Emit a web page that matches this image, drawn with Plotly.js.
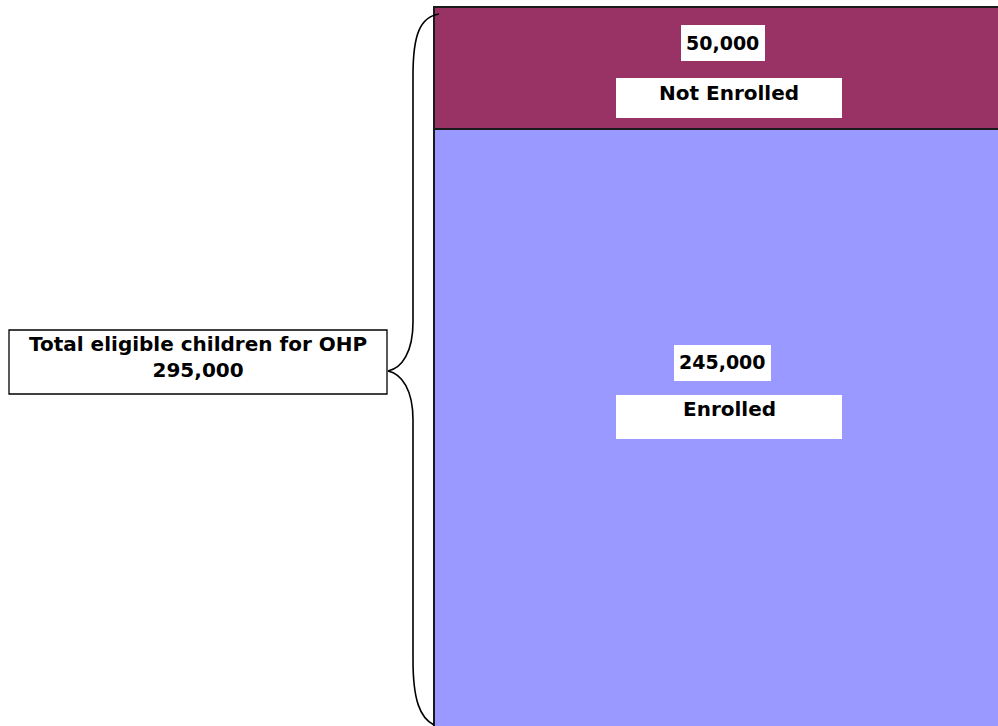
<!DOCTYPE html>
<html>
<head>
<meta charset="utf-8">
<script src="https://cdn.plot.ly/plotly-3.0.1.min.js"></script>
<style>
  html, body { margin: 0; padding: 0; background: #fff; }
  #chart { width: 998px; height: 726px; }
</style>
</head>
<body>
<div id="chart"></div>
<script>
// Oregon Health Plan: eligible children by enrolment status
const categories = ['Enrolled', 'Not Enrolled'];
const values = [245000, 50000];
const colors = ['#9999FF', '#993366'];
const totalLabel = 'Total eligible children for OHP';

const total = values.reduce((a, b) => a + b, 0);
const fmt = v => v.toLocaleString('en-US');

// page geometry (pixels)
const W = 998, H = 726;
const BAR_LEFT = 434;      // left edge of the stacked column
const BAR_TOP = 7;         // pixel where the column's total is reached
const BAR_BASE = 727.5;    // column base sits just below the page edge
const unitsPerPx = total / (BAR_BASE - BAR_TOP);
const px = x => x / W;
const py = y => 1 - y / H;

const traces = categories.map((c, i) => ({
  type: 'bar',
  name: c,
  x: [BAR_LEFT],
  y: [values[i]],
  offset: 0,
  width: 620,
  marker: { color: colors[i], line: { color: '#1a1a1a', width: 1.5 } },
  hoverinfo: 'none',
  showlegend: false
}));

const labelFont = { family: 'DejaVu Sans, Arial, sans-serif', size: 20, color: '#000', weight: 'bold' };
const numFont = Object.assign({}, labelFont, { size: 19 });

// white boxes behind the in-column labels
function box(x0, y0, x1, y1, line) {
  return {
    type: 'rect', xref: 'paper', yref: 'paper', layer: 'above',
    x0: px(x0), x1: px(x1), y0: py(y1), y1: py(y0),
    fillcolor: '#ffffff',
    line: line ? { color: '#000', width: 1.3 } : { width: 0 }
  };
}

// curly brace spanning the whole column, pointing at the total label
const brace = 'M 439 14 C 420 17, 413 35, 413 75 L 413 322 ' +
  'C 413 352, 402 368, 388 371 C 402 374, 413 390, 413 420 L 413 660 ' +
  'C 413 700, 420 718, 434 725';
const braceSvg = brace.replace(/(\d+(?:\.\d+)?) (\d+(?:\.\d+)?)/g,
  (m, a, b) => px(+a).toFixed(5) + ',' + py(+b).toFixed(5));

const shapes = [
  box(681, 25, 765, 61, false),
  box(616, 78, 842, 118, false),
  box(674, 345, 771, 381, false),
  box(616, 395, 842, 439, false),
  box(9, 330, 387, 394, true),
  { type: 'path', xref: 'paper', yref: 'paper', layer: 'above',
    path: braceSvg, line: { color: '#000', width: 1.6 }, fillcolor: 'rgba(0,0,0,0)' }
];

function note(text, x, y, font) {
  return { text, x: px(x), y: py(y), xref: 'paper', yref: 'paper',
    xanchor: 'center', yanchor: 'middle', showarrow: false, font };
}

const annotations = [
  note(fmt(values[1]), 722, 43, numFont),
  note(categories[1], 729, 93, labelFont),
  note(fmt(values[0]), 722, 362, numFont),
  note(categories[0], 729, 409, labelFont),
  note(totalLabel + '<br>' + fmt(total), 198, 357, labelFont)
];

const layout = {
  width: W, height: H,
  margin: { l: 0, r: 0, t: 0, b: 0 },
  paper_bgcolor: '#fff', plot_bgcolor: '#fff',
  barmode: 'stack',
  xaxis: { range: [0, W], visible: false, fixedrange: true },
  yaxis: {
    range: [(BAR_BASE - H) * unitsPerPx, total + BAR_TOP * unitsPerPx],
    visible: false, fixedrange: true
  },
  shapes, annotations
};

Plotly.newPlot('chart', traces, layout, { staticPlot: true, displayModeBar: false });
</script>
</body>
</html>
